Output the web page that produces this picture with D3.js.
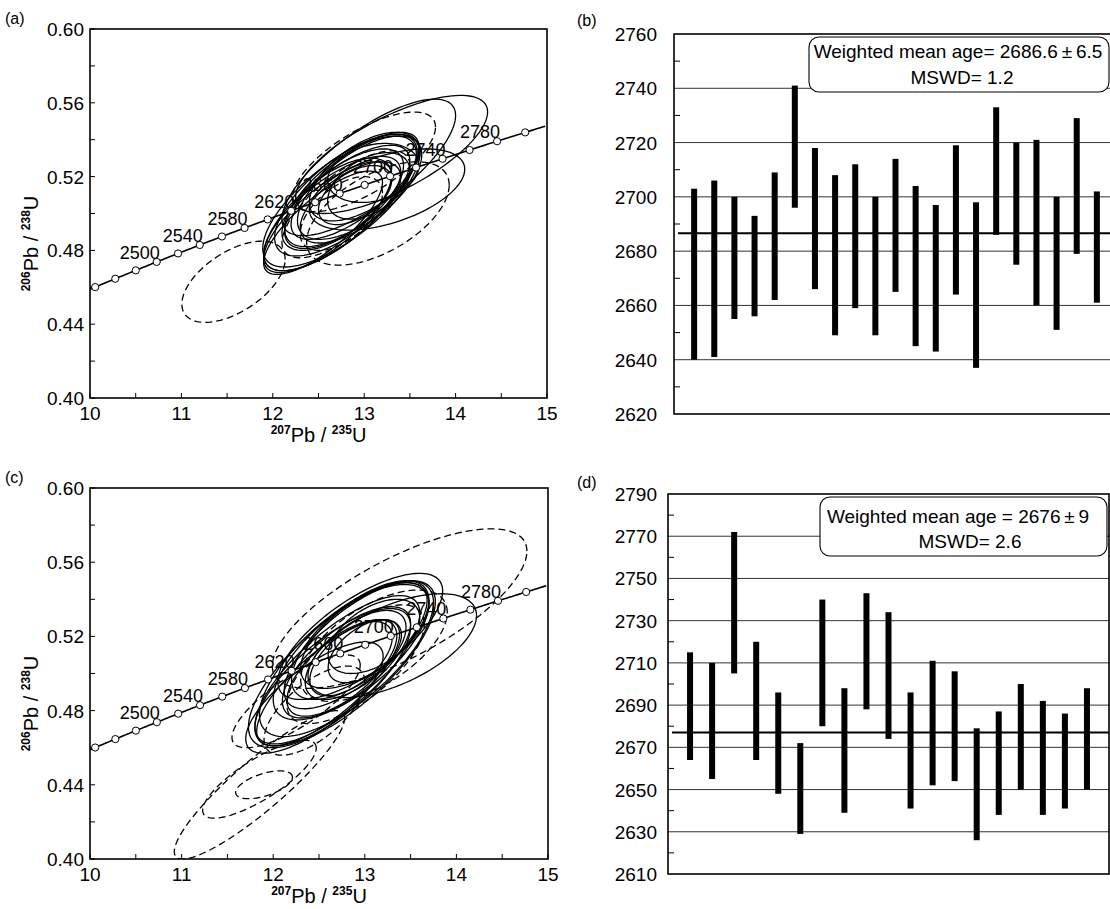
<!doctype html>
<html>
<head>
<title>U-Pb concordia and weighted mean ages</title>
<style>
body { margin:0; background:#fff; }
svg { display:block; font-family: Arial, "Liberation Sans", sans-serif; }
</style>
</head>
<body>
<svg width="1110" height="909" id="chart"></svg>
<script src="https://d3js.org/d3.v7.min.js"></script>
<script>
// concordia ages (Ma) marked with circles, and labelled ones
var concordiaAges = [2440,2460,2480,2500,2520,2540,2560,2580,2600,2620,2640,2660,2680,2700,2720,2740,2760,2780,2800];
var labelAges = [2500,2540,2580,2620,2660,2700,2740,2780];
var concXTicks = [10,11,12,13,14,15];
var concYTicks = [0.40,0.44,0.48,0.52,0.56,0.60];

// error ellipses: [207Pb/235U, 206Pb/238U, sigmaX, sigmaY, rho, dashed]
var ellipsesA = [
  [12.75,0.507,0.86,0.036,0.72,0],
  [12.70,0.503,0.80,0.034,0.74,0],
  [12.80,0.510,0.78,0.033,0.70,0],
  [12.65,0.500,0.75,0.031,0.72,0],
  [12.85,0.512,0.72,0.030,0.68,0],
  [12.90,0.515,0.70,0.029,0.72,0],
  [12.60,0.498,0.70,0.030,0.75,0],
  [12.95,0.514,0.68,0.028,0.64,0],
  [12.78,0.508,0.65,0.027,0.67,0],
  [12.70,0.505,0.60,0.025,0.62,0],
  [13.00,0.520,0.60,0.024,0.58,0],
  [12.85,0.506,0.55,0.022,0.62,0],
  [13.05,0.515,0.45,0.018,0.45,0],
  [13.10,0.522,0.50,0.016,0.25,0],
  [12.90,0.510,0.40,0.016,0.50,0],
  [12.55,0.495,0.65,0.028,0.78,0],
  [12.80,0.505,0.70,0.029,0.72,1],
  [13.15,0.500,0.78,0.028,0.55,1],
  [13.00,0.528,0.78,0.027,0.70,1],
  [12.75,0.500,0.45,0.020,0.55,1],
  [13.30,0.532,1.05,0.032,0.72,0],
  [13.05,0.525,0.95,0.037,0.76,0],
  [13.25,0.513,0.85,0.022,0.50,0],
  [11.57,0.463,0.565,0.022,0.55,1]
];
var ellipsesC = [
  [12.75,0.505,1.02,0.045,0.75,0],
  [12.80,0.508,0.95,0.042,0.72,0],
  [12.70,0.502,0.90,0.040,0.76,0],
  [12.85,0.512,0.85,0.037,0.70,0],
  [12.65,0.498,0.85,0.037,0.74,0],
  [12.90,0.515,0.78,0.034,0.72,0],
  [12.95,0.518,0.75,0.032,0.67,0],
  [12.60,0.495,0.78,0.034,0.77,0],
  [12.80,0.506,0.70,0.030,0.70,0],
  [13.00,0.520,0.70,0.028,0.62,0],
  [12.75,0.503,0.60,0.026,0.67,0],
  [12.90,0.510,0.55,0.024,0.62,0],
  [13.10,0.520,0.50,0.020,0.50,0],
  [12.85,0.508,0.45,0.020,0.58,0],
  [13.00,0.512,0.40,0.017,0.52,0],
  [13.30,0.515,0.92,0.028,0.58,0],
  [12.95,0.520,0.90,0.034,0.72,0],
  [12.45,0.487,0.75,0.030,0.74,0],
  [13.38,0.535,1.39,0.043,0.72,1],
  [12.25,0.485,0.70,0.025,0.78,1],
  [11.85,0.443,0.62,0.021,0.80,1],
  [11.90,0.440,0.31,0.0075,0.55,1],
  [11.85,0.440,0.93,0.040,0.90,1],
  [12.90,0.505,0.75,0.032,0.68,1],
  [13.10,0.515,0.80,0.030,0.60,1],
  [12.45,0.480,0.55,0.024,0.65,1]
];

// weighted mean panels: [upper, lower] age limits (Ma)
var agesB = [[2703,2640],[2706,2641],[2700,2655],[2693,2656],[2709,2662],[2741,2696],[2718,2666],
  [2708,2649],[2712,2659],[2700,2649],[2714,2665],[2704,2645],[2697,2643],[2719,2664],[2698,2637],
  [2733,2686],[2720,2675],[2721,2660],[2700,2651],[2729,2679],[2702,2661]];
var agesD = [[2715,2664],[2710,2655],[2772,2705],[2720,2664],[2696,2648],[2672,2629],[2740,2680],
  [2698,2639],[2743,2688],[2734,2674],[2696,2641],[2711,2652],[2706,2654],[2679,2626],[2687,2638],
  [2700,2650],[2692,2638],[2686,2641],[2698,2650]];
var meanB = 2686.6, meanD = 2677;
var ticksB = [2620,2640,2660,2680,2700,2720,2740,2760];
var ticksD = [2610,2630,2650,2670,2690,2710,2730,2750,2770,2790];
var textB = ["Weighted mean age= 2686.6\u2009\u00b1\u20096.5", "MSWD= 1.2"];
var textD = ["Weighted mean age = 2676\u2009\u00b1\u20099", "MSWD= 2.6"];

var svg = d3.select("#chart");
var l238 = 1.55125e-10, l235 = 9.8485e-10;
function conc(t) { return [Math.exp(l235*t*1e6)-1, Math.exp(l238*t*1e6)-1]; }

function panelLabel(txt, x, y) {
  svg.append("text").attr("x", x).attr("y", y).attr("font-size", 16).text(txt);
}

function concordiaPanel(id, f, ellipses) {
  var x = d3.scaleLinear().domain([10,15]).range([f.left, f.right]);
  var y = d3.scaleLinear().domain([0.40,0.60]).range([f.bottom, f.top]);
  var g = svg.append("g");
  g.append("clipPath").attr("id", id).append("rect")
    .attr("x", f.left).attr("y", f.top).attr("width", f.right-f.left).attr("height", f.bottom-f.top);

  // ticks (inward)
  x.ticks(10).forEach(function(v) {
    g.append("line").attr("x1", x(v)).attr("x2", x(v)).attr("y1", f.bottom).attr("y2", f.bottom-5)
      .attr("stroke","#000").attr("stroke-width",1);
  });
  y.ticks(10).forEach(function(v) {
    g.append("line").attr("x1", f.left).attr("x2", f.left+5).attr("y1", y(v)).attr("y2", y(v))
      .attr("stroke","#000").attr("stroke-width",1);
  });
  concXTicks.forEach(function(v) {
    g.append("text").attr("x", x(v)).attr("y", f.bottom+22).attr("text-anchor","middle")
      .attr("font-size",19).text(v);
  });
  concYTicks.forEach(function(v) {
    g.append("text").attr("x", f.left-6).attr("y", y(v)+7).attr("text-anchor","end")
      .attr("font-size",19).text(v.toFixed(2));
  });

  // concordia curve
  var curve = [];
  for (var t = 2430; t <= 2815; t += 2) curve.push(conc(t));
  var line = d3.line().x(function(d){return x(d[0]);}).y(function(d){return y(d[1]);});
  var inner = g.append("g").attr("clip-path", "url(#" + id + ")");
  inner.append("path").attr("d", line(curve)).attr("fill","none").attr("stroke","#000").attr("stroke-width",1.6);
  labelAges.forEach(function(a) {
    var p = conc(a);
    g.append("text").attr("x", x(p[0])+3).attr("y", y(p[1])-3).attr("text-anchor","end")
      .attr("font-size",18).text(a);
  });

  // error ellipses
  var closed = d3.line().x(function(d){return x(d[0]);}).y(function(d){return y(d[1]);}).curve(d3.curveLinearClosed);
  ellipses.forEach(function(e) {
    var k = Math.sqrt(1 - e[4]*e[4]), pts = [];
    for (var j = 0; j < 120; j++) {
      var th = j/120*2*Math.PI;
      pts.push([e[0] + e[2]*Math.cos(th), e[1] + e[3]*(e[4]*Math.cos(th) + k*Math.sin(th))]);
    }
    inner.append("path").attr("d", closed(pts)).attr("fill","none").attr("stroke","#000")
      .attr("stroke-width",1.3).attr("stroke-dasharray", e[5] ? "7,4" : null);
  });

  inner.selectAll("circle.c").data(concordiaAges).enter().append("circle")
    .attr("cx", function(a){return x(conc(a)[0]);}).attr("cy", function(a){return y(conc(a)[1]);})
    .attr("r", 3.6).attr("fill","#fff").attr("stroke","#000").attr("stroke-width",1);

  g.append("rect").attr("x", f.left).attr("y", f.top).attr("width", f.right-f.left).attr("height", f.bottom-f.top)
    .attr("fill","none").attr("stroke","#000").attr("stroke-width",1.6);

  // axis titles
  var xl = g.append("text").attr("x", (f.left+f.right)/2).attr("y", f.bottom+44).attr("text-anchor","middle").attr("font-size",20);
  xl.append("tspan").attr("font-size",12).attr("font-weight","bold").attr("dy",-8).text("207");
  xl.append("tspan").attr("dy",8).text("Pb / ");
  xl.append("tspan").attr("font-size",12).attr("font-weight","bold").attr("dy",-8).text("235");
  xl.append("tspan").attr("dy",8).text("U");
  var yl = g.append("text").attr("transform","translate(" + (f.left-52) + "," + ((f.top+f.bottom)/2+30) + ") rotate(-90)")
    .attr("text-anchor","middle").attr("font-size",20);
  yl.append("tspan").attr("font-size",12).attr("font-weight","bold").attr("dy",-8).text("206");
  yl.append("tspan").attr("dy",8).text("Pb / ");
  yl.append("tspan").attr("font-size",12).attr("font-weight","bold").attr("dy",-8).text("238");
  yl.append("tspan").attr("dy",8).text("U");
}

function meanPanel(f, data, ticks, mean, lines, box, minorStep) {
  var y = d3.scaleLinear().domain([ticks[0], ticks[ticks.length-1]]).range([f.bottom, f.top]);
  var x = d3.scaleLinear().domain([0, data.length+1]).range([f.left, f.right]);
  var g = svg.append("g");
  ticks.forEach(function(v, i) {
    if (i > 0 && i < ticks.length-1)
      g.append("line").attr("x1", f.left).attr("x2", f.right).attr("y1", y(v)).attr("y2", y(v))
        .attr("stroke","#333").attr("stroke-width",1);
    g.append("text").attr("x", f.labelX).attr("y", y(v)+7).attr("text-anchor","end")
      .attr("font-size",19).text(v);
    if (i < ticks.length-1)
      g.append("line").attr("x1", f.left).attr("x2", f.left+6).attr("y1", y(v+minorStep)).attr("y2", y(v+minorStep))
        .attr("stroke","#000").attr("stroke-width",1);
  });
  g.append("line").attr("x1", f.left+4).attr("x2", f.right).attr("y1", y(mean)).attr("y2", y(mean))
    .attr("stroke","#000").attr("stroke-width",2);
  g.selectAll("rect.bar").data(data).enter().append("rect")
    .attr("x", function(d,i){return x(i+1)-3;}).attr("width", 6)
    .attr("y", function(d){return y(d[0]);}).attr("height", function(d){return y(d[1])-y(d[0]);})
    .attr("fill","#000");
  g.append("rect").attr("x", f.left).attr("y", f.top).attr("width", f.right-f.left).attr("height", f.bottom-f.top)
    .attr("fill","none").attr("stroke","#000").attr("stroke-width",1.6);
  g.append("rect").attr("x", box.x).attr("y", box.y).attr("width", box.w).attr("height", box.h)
    .attr("rx", 10).attr("fill","#fff").attr("stroke","#000").attr("stroke-width",1.1);
  lines.forEach(function(s, i) {
    g.append("text").attr("x", box.tx[i]).attr("y", box.ty[i]).attr("text-anchor","middle")
      .attr("font-size",19).text(s);
  });
}

panelLabel("(a)", 5, 24);
panelLabel("(b)", 577, 26);
panelLabel("(c)", 5, 483);
panelLabel("(d)", 577, 488);

concordiaPanel("clipA", {left:90, right:547, top:29, bottom:398}, ellipsesA);
concordiaPanel("clipC", {left:90, right:548, top:488, bottom:859}, ellipsesC);

meanPanel({left:674, right:1117, top:34, bottom:414, labelX:657}, agesB, ticksB, meanB, textB,
  {x:809, y:37, w:300, h:55, tx:[958, 962], ty:[58, 84]}, 10);
meanPanel({left:668, right:1109, top:494, bottom:874, labelX:657}, agesD, ticksD, meanD, textD,
  {x:820, y:497, w:287, h:59, tx:[958, 970], ty:[523, 548]}, 10);
</script>
</body>
</html>
